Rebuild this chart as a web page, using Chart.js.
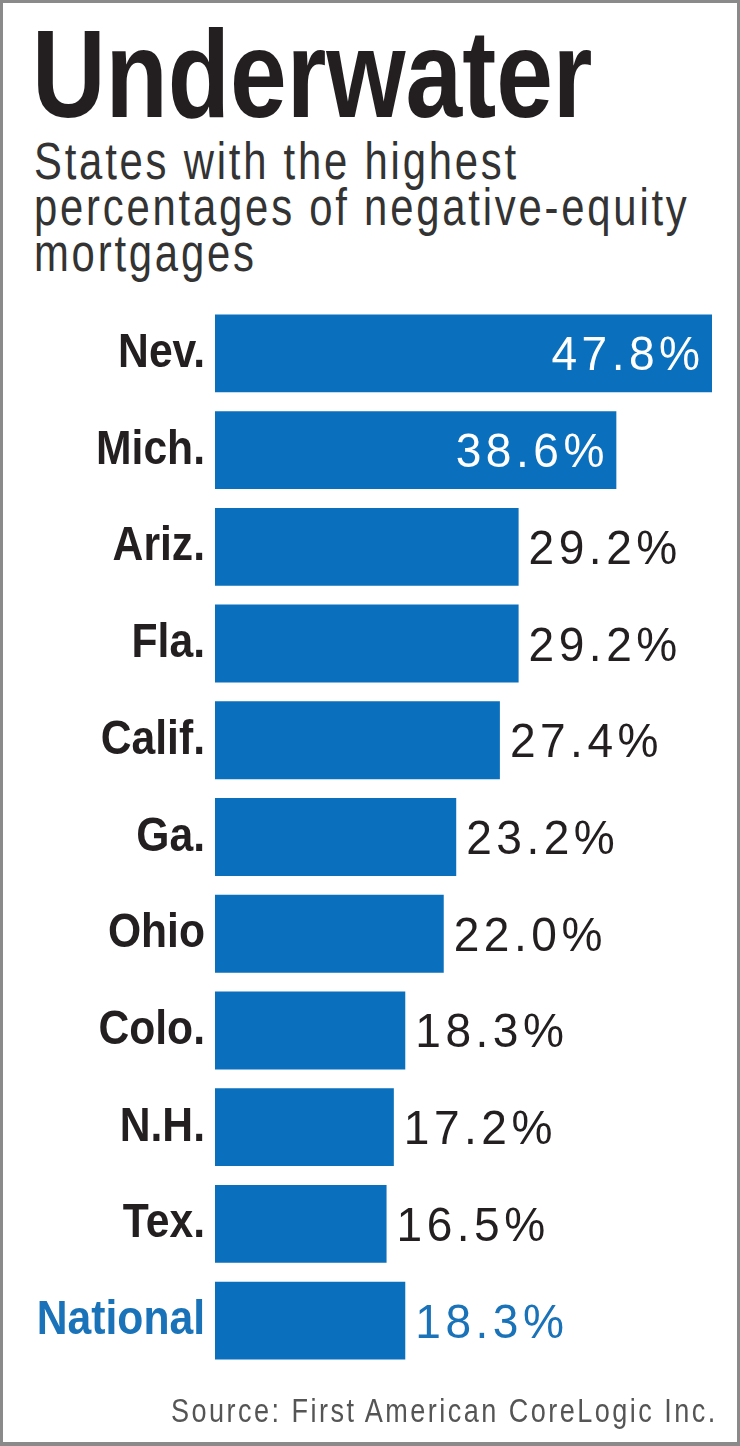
<!DOCTYPE html>
<html>
<head>
<meta charset="utf-8">
<script src="https://cdn.jsdelivr.net/npm/chart.js@4.4.1/dist/chart.umd.min.js"></script>
<style>
  html, body { margin: 0; padding: 0; background: #fff; }
  #wrap { position: relative; width: 740px; height: 1446px; overflow: hidden; background: #fff; }
  #frame { position: absolute; left: 0; top: 0; width: 740px; height: 1446px; box-sizing: border-box;
           border: 3px solid #8a8a8a; border-bottom-width: 4px; pointer-events: none; z-index: 5; }
  .txt { position: absolute; font-family: "Liberation Sans", Arial, sans-serif; white-space: nowrap; }
  #title { left: 32px; top: 11px; font-weight: bold; font-size: 125px; line-height: 125px; color: #231f20;
           transform: scaleX(0.815); transform-origin: 0 0; }
  #subtitle { left: 34px; top: 139px; font-size: 51px; line-height: 46px; color: #333;
           letter-spacing: 3.4px; transform: scaleX(0.82); transform-origin: 0 0; }
  #source { right: 22px; top: 1391px; font-size: 33px; line-height: 40px; color: #555;
           letter-spacing: 3px; transform: scaleX(0.82); transform-origin: 100% 0; }
  canvas { position: absolute; left: 0; top: 0; }
</style>
</head>
<body>
<div id="wrap">
  <div id="title" class="txt">Underwater</div>
  <div id="subtitle" class="txt">States with the highest<br>percentages of negative-equity<br>mortgages</div>
  <canvas id="c" width="740" height="1446"></canvas>
  <div id="source" class="txt">Source: First American CoreLogic Inc.</div>
  <div id="frame"></div>
</div>
<script>
const categories = ["Nev.", "Mich.", "Ariz.", "Fla.", "Calif.", "Ga.", "Ohio", "Colo.", "N.H.", "Tex.", "National"];
const values = [47.8, 38.6, 29.2, 29.2, 27.4, 23.2, 22.0, 18.3, 17.2, 16.5, 18.3];
const valueLabels = ["47.8%", "38.6%", "29.2%", "29.2%", "27.4%", "23.2%", "22.0%", "18.3%", "17.2%", "16.5%", "18.3%"];
const insideLabel = [true, true, false, false, false, false, false, false, false, false, false];
const highlightCategory = "National";

const BAR = "#0a70bd";
const BLUE_TEXT = "#1a73b8";
const DARK = "#231f20";
const FONT = '"Liberation Sans", Arial, sans-serif';
const TICK_SQUEEZE = 0.87;
const VALUE_SQUEEZE = 0.94;
const VALUE_GAP = 4.5;
const TICK_PAD = 10;

// Condense the category tick labels horizontally (narrow face) about their right edge.
const condensePlugin = {
  id: 'condense',
  beforeDraw(chart) {
    const ctx = chart.ctx;
    const ax = chart.scales.y.right - TICK_PAD;
    ctx.save();
    ctx.translate(ax, 0);
    ctx.scale(TICK_SQUEEZE, 1);
    ctx.translate(-ax, 0);
  },
  beforeDatasetsDraw(chart) { chart.ctx.restore(); }
};

// Draw a condensed, tracked string starting at x (left) on baseline y.
function drawTracked(ctx, text, x, y) {
  let cx = x;
  for (const ch of text) {
    ctx.save();
    ctx.translate(cx, y);
    ctx.scale(VALUE_SQUEEZE, 1);
    ctx.fillText(ch, 0, 0);
    ctx.restore();
    cx += ctx.measureText(ch).width * VALUE_SQUEEZE + VALUE_GAP;
  }
}
function trackedWidth(ctx, text) {
  let w = 0;
  for (const ch of text) w += ctx.measureText(ch).width * VALUE_SQUEEZE;
  return w + VALUE_GAP * (text.length - 1);
}

const valuePlugin = {
  id: 'values',
  afterDatasetsDraw(chart) {
    const ctx = chart.ctx;
    const meta = chart.getDatasetMeta(0);
    ctx.save();
    ctx.font = '49px ' + FONT;
    ctx.textBaseline = 'alphabetic';
    ctx.textAlign = 'left';
    meta.data.forEach((bar, i) => {
      const y = bar.y + 17;
      const txt = valueLabels[i];
      if (insideLabel[i]) {
        ctx.fillStyle = '#ffffff';
        drawTracked(ctx, txt, bar.x - 12 - trackedWidth(ctx, txt), y);
      } else {
        ctx.fillStyle = categories[i] === highlightCategory ? BLUE_TEXT : DARK;
        drawTracked(ctx, txt, bar.x + 10, y);
      }
    });
    ctx.restore();
  }
};

new Chart(document.getElementById('c'), {
  type: 'bar',
  data: {
    labels: categories,
    datasets: [{
      data: values,
      backgroundColor: BAR,
      borderWidth: 0,
      barPercentage: 0.805,
      categoryPercentage: 1.0
    }]
  },
  options: {
    indexAxis: 'y',
    responsive: false,
    animation: false,
    events: [],
    layout: { padding: { left: 0, right: 28, top: 305, bottom: 77 } },
    plugins: { legend: { display: false }, tooltip: { enabled: false }, title: { display: false } },
    scales: {
      x: { display: false, min: 0, max: 47.8 },
      y: {
        grid: { display: false, drawTicks: false },
        border: { display: false },
        afterFit(scale) { scale.width = 215; },
        ticks: {
          padding: TICK_PAD,
          font: { family: FONT, size: 49, weight: 'bold' },
          color: (ctx) => categories[ctx.index] === highlightCategory ? BLUE_TEXT : DARK
        }
      }
    }
  },
  plugins: [condensePlugin, valuePlugin]
});
</script>
</body>
</html>
